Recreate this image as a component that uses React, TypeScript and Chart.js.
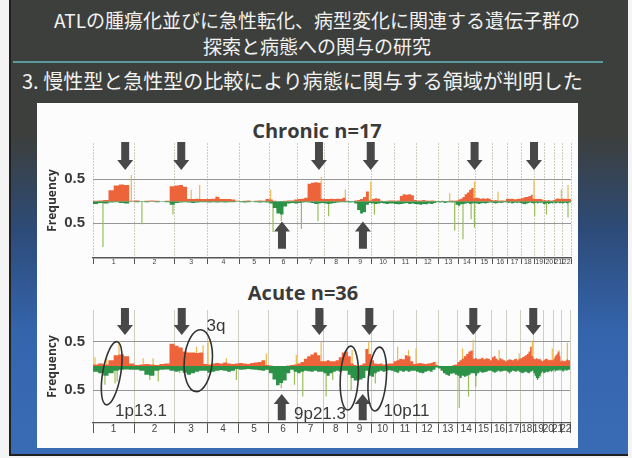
import React, { useEffect, useRef } from 'react';
import Chart from 'chart.js/auto';

// ---------- data ----------
const CHROMOSOMES = ['1','2','3','4','5','6','7','8','9','10','11','12','13','14','15','16','17','18','19','20','21','22'];
const CHROM_LENGTH_MB = [249.3,243.2,198.0,191.2,180.9,171.1,159.1,146.4,141.2,135.5,135.0,133.9,115.2,107.3,102.5,90.4,81.2,78.1,59.1,63.0,48.1,51.3];
const BINS_PER_CHROM = 8;
const Y_TICKS = [-0.5, 0.5];

// Chronic n=17 (8 bins per chromosome)
const CHRONIC_GAIN = [
  0.02,0.01,0.02,0.03,0.25,0.36,0.38,0.37,
  0.01,0.02,0.00,0.01,0.02,0.01,0.00,0.01,
  0.34,0.36,0.37,0.33,0.05,0.05,0.06,0.05,
  0.05,0.05,0.06,0.10,0.05,0.05,0.05,0.04,
  0.01,0.00,0.01,0.02,0.00,0.01,0.02,0.01,
  0.05,0.04,0.01,0.00,0.00,0.01,0.02,0.02,
  0.04,0.05,0.06,0.08,0.40,0.42,0.43,0.42,
  0.06,0.05,0.05,0.06,0.05,0.06,0.05,0.08,
  0.01,0.00,0.00,0.02,0.03,0.05,0.10,0.22,
  0.02,0.05,0.07,0.06,0.01,0.00,0.01,0.02,
  0.02,0.01,0.02,0.12,0.16,0.15,0.16,0.14,
  0.03,0.02,0.02,0.03,0.02,0.01,0.02,0.01,
  0.00,0.00,0.01,0.00,0.00,0.01,0.02,0.01,
  0.02,0.04,0.06,0.10,0.16,0.20,0.26,0.30,
  0.07,0.08,0.07,0.06,0.07,0.06,0.07,0.06,
  0.03,0.02,0.03,0.02,0.01,0.02,0.02,0.01,
  0.05,0.06,0.05,0.06,0.05,0.04,0.05,0.06,
  0.06,0.07,0.08,0.10,0.10,0.11,0.12,0.15,
  0.06,0.05,0.06,0.05,0.05,0.06,0.05,0.04,
  0.02,0.03,0.02,0.02,0.03,0.02,0.01,0.02,
  0.03,0.04,0.05,0.06,0.07,0.06,0.05,0.05,
  0.05,0.06,0.06,0.05,0.06,0.05,0.06,0.05,
];
const CHRONIC_LOSS = [
  -0.05,-0.06,-0.04,-0.05,-0.03,-0.02,-0.04,-0.05,
  -0.01,-0.02,-0.01,-0.02,-0.01,-0.02,-0.01,-0.02,
  -0.08,-0.04,-0.03,-0.02,-0.03,-0.04,-0.03,-0.02,
  -0.02,-0.03,-0.02,-0.03,-0.02,-0.03,-0.02,-0.02,
  -0.01,-0.02,-0.03,-0.02,-0.01,-0.02,-0.03,-0.02,
  -0.03,-0.05,-0.15,-0.28,-0.30,-0.12,-0.05,-0.04,
  -0.05,-0.04,-0.03,-0.02,-0.03,-0.04,-0.06,-0.05,
  -0.04,-0.05,-0.06,-0.05,-0.04,-0.03,-0.02,-0.02,
  -0.02,-0.03,-0.02,-0.05,-0.20,-0.28,-0.25,-0.08,
  -0.04,-0.05,-0.06,-0.05,-0.04,-0.05,-0.06,-0.05,
  -0.05,-0.06,-0.07,-0.06,-0.05,-0.04,-0.06,-0.05,
  -0.06,-0.07,-0.08,-0.06,-0.07,-0.05,-0.06,-0.04,
  -0.02,-0.03,-0.02,-0.04,-0.03,-0.02,-0.03,-0.02,
  -0.08,-0.10,-0.07,-0.06,-0.05,-0.04,-0.06,-0.05,
  -0.04,-0.05,-0.06,-0.05,-0.04,-0.05,-0.04,-0.03,
  -0.03,-0.04,-0.05,-0.04,-0.03,-0.04,-0.03,-0.02,
  -0.03,-0.04,-0.03,-0.05,-0.04,-0.03,-0.04,-0.03,
  -0.04,-0.05,-0.06,-0.07,-0.05,-0.04,-0.03,-0.04,
  -0.05,-0.04,-0.03,-0.05,-0.04,-0.03,-0.04,-0.03,
  -0.06,-0.07,-0.05,-0.04,-0.06,-0.05,-0.04,-0.05,
  -0.03,-0.04,-0.05,-0.04,-0.03,-0.04,-0.05,-0.04,
  -0.04,-0.05,-0.04,-0.03,-0.04,-0.05,-0.04,-0.03,
];
const CHRONIC_SPIKE_UP_MB = [231, 592, 643, 743, 1071, 1376, 1521, 1674, 2150, 2300, 2441, 2658, 2823, 2863];
const CHRONIC_SPIKE_UP_FREQ = [0.60, 0.26, 0.37, 0.12, 0.26, 0.56, 0.27, 0.45, 0.18, 0.45, 0.22, 0.50, 0.27, 0.37];
const CHRONIC_SPIKE_DOWN_MB = [60, 295, 482, 1085, 1135, 1256, 1356, 1420, 1696, 2180, 2230, 2279, 2299, 2662, 2733, 2863];
const CHRONIC_SPIKE_DOWN_FREQ = [-1.04, -0.52, -0.30, -0.70, -0.45, -0.63, -0.45, -0.34, -0.30, -0.67, -0.86, -0.41, -0.60, -0.34, -0.30, -0.37];
const CHRONIC_GAIN_ARROWS_MB = [194, 532, 1362, 1674, 2300, 2658];
const CHRONIC_LOSS_ARROWS_MB = [1139, 1627];

// Acute n=36
const ACUTE_GAIN = [
  0.04,0.03,0.05,0.03,0.12,0.22,0.24,0.20,
  0.05,0.02,0.03,0.04,0.03,0.02,0.04,0.05,
  0.46,0.42,0.38,0.30,0.28,0.28,0.27,0.28,
  0.04,0.03,0.05,0.06,0.05,0.07,0.05,0.04,
  0.05,0.06,0.05,0.04,0.06,0.07,0.08,0.12,
  0.02,0.01,0.00,0.00,0.00,0.00,0.01,0.02,
  0.03,0.05,0.08,0.15,0.20,0.24,0.28,0.22,
  0.10,0.10,0.12,0.10,0.10,0.12,0.18,0.28,
  0.30,0.20,0.05,0.02,0.00,0.02,0.05,0.35,
  0.25,0.12,0.05,0.04,0.05,0.03,0.04,0.05,
  0.05,0.10,0.12,0.15,0.14,0.22,0.20,0.10,
  0.04,0.05,0.06,0.05,0.04,0.05,0.06,0.08,
  0.02,0.00,0.00,0.00,0.00,0.00,0.00,0.02,
  0.03,0.08,0.12,0.15,0.20,0.25,0.30,0.32,
  0.15,0.16,0.14,0.15,0.17,0.14,0.16,0.15,
  0.12,0.18,0.20,0.15,0.12,0.16,0.14,0.12,
  0.10,0.12,0.14,0.13,0.12,0.14,0.15,0.12,
  0.15,0.16,0.18,0.20,0.22,0.25,0.30,0.40,
  0.20,0.15,0.14,0.16,0.15,0.14,0.15,0.12,
  0.10,0.12,0.14,0.15,0.14,0.12,0.13,0.12,
  0.12,0.15,0.20,0.22,0.25,0.30,0.28,0.20,
  0.10,0.12,0.10,0.11,0.10,0.12,0.14,0.12,
];
const ACUTE_LOSS = [
  -0.10,-0.12,-0.15,-0.20,-0.15,-0.10,-0.08,-0.07,
  -0.08,-0.08,-0.10,-0.18,-0.20,-0.10,-0.08,-0.07,
  -0.10,-0.12,-0.10,-0.14,-0.18,-0.15,-0.12,-0.10,
  -0.10,-0.14,-0.12,-0.10,-0.09,-0.10,-0.12,-0.10,
  -0.06,-0.08,-0.07,-0.06,-0.07,-0.08,-0.09,-0.10,
  -0.08,-0.15,-0.28,-0.40,-0.35,-0.30,-0.15,-0.08,
  -0.12,-0.15,-0.12,-0.10,-0.11,-0.12,-0.10,-0.12,
  -0.12,-0.15,-0.20,-0.15,-0.12,-0.10,-0.12,-0.10,
  -0.10,-0.18,-0.25,-0.30,-0.30,-0.28,-0.25,-0.10,
  -0.20,-0.22,-0.15,-0.12,-0.10,-0.12,-0.10,-0.09,
  -0.10,-0.12,-0.14,-0.10,-0.12,-0.10,-0.12,-0.10,
  -0.10,-0.12,-0.14,-0.15,-0.12,-0.10,-0.12,-0.08,
  -0.03,-0.05,-0.10,-0.15,-0.18,-0.20,-0.16,-0.15,
  -0.18,-0.20,-0.25,-0.20,-0.22,-0.20,-0.18,-0.15,
  -0.15,-0.20,-0.15,-0.12,-0.14,-0.13,-0.12,-0.10,
  -0.10,-0.12,-0.14,-0.12,-0.10,-0.12,-0.11,-0.10,
  -0.10,-0.12,-0.15,-0.12,-0.10,-0.11,-0.12,-0.10,
  -0.12,-0.14,-0.15,-0.13,-0.12,-0.14,-0.15,-0.12,
  -0.10,-0.15,-0.20,-0.25,-0.28,-0.25,-0.20,-0.15,
  -0.12,-0.15,-0.14,-0.12,-0.13,-0.12,-0.10,-0.12,
  -0.10,-0.08,-0.12,-0.10,-0.09,-0.10,-0.08,-0.10,
  -0.08,-0.10,-0.12,-0.10,-0.08,-0.10,-0.09,-0.08,
];
const ACUTE_SPIKE_UP_MB = [12, 83, 157, 303, 363, 625, 665, 695, 806, 1047, 1228, 1378, 1565, 1665, 1840, 1906, 1951, 2071, 2232, 2296, 2453, 2574, 2654, 2774, 2815, 2865];
const ACUTE_SPIKE_UP_FREQ = [0.18, 0.16, 0.52, 0.16, 0.16, 0.40, 0.43, 0.52, 0.16, 0.26, 0.23, 0.50, 0.33, 0.50, 0.40, 0.33, 0.36, 0.09, 0.36, 0.54, 0.33, 0.26, 0.52, 0.36, 0.33, 0.48];
const ACUTE_SPIKE_DOWN_MB = [72, 133, 146, 343, 394, 524, 866, 1137, 1217, 1267, 1408, 1448, 1559, 1705, 2212, 2268, 2312, 2684, 2704];
const ACUTE_SPIKE_DOWN_FREQ = [-0.39, -0.36, -0.32, -0.29, -0.32, -0.15, -0.29, -0.46, -0.39, -0.63, -0.63, -0.29, -0.50, -0.36, -0.87, -0.63, -0.43, -0.29, -0.22];
const ACUTE_GAIN_ARROWS_MB = [193, 536, 1367, 1669, 2297, 2659];
const ACUTE_LOSS_ARROWS_MB = [1140, 1629];
const ACUTE_REGION_LABELS = ['1p13.1', '3q', '9p21.3', '10p11'];
const ACUTE_REGION_MB = [113, 636, 1548, 1717];
const ACUTE_REGION_FREQ = [-0.15, 0.11, -0.25, -0.27];
const ACUTE_LABEL_MB = [290, 743, 1371, 1893];
const ACUTE_LABEL_FREQ = [-0.93, 0.83, -0.99, -0.93];

// ---------- helpers ----------
const CHROM_START: number[] = [];
CHROM_LENGTH_MB.reduce((acc, len) => { CHROM_START.push(acc); return acc + len; }, 0);
const GENOME_MB = CHROM_LENGTH_MB.reduce((a, b) => a + b, 0);
const X_TICKS: number[] = [];
CHROM_LENGTH_MB.forEach((len, c) => { X_TICKS.push(CHROM_START[c]); X_TICKS.push(CHROM_START[c] + len / 2); });
X_TICKS.push(GENOME_MB);

function stepPoints(values: number[]) {
  const pts: any[] = [];
  CHROM_LENGTH_MB.forEach((len, c) => {
    for (let b = 0; b < BINS_PER_CHROM; b++) {
      pts.push({ x: CHROM_START[c] + (len * b) / BINS_PER_CHROM, y: values[c * BINS_PER_CHROM + b] });
    }
  });
  pts.push({ x: GENOME_MB, y: values[values.length - 1] });
  return pts;
}
function spikePoints(mb: number[], freq: number[]) {
  const pts: any[] = [];
  mb.forEach((m, i) => { pts.push({ x: m, y: 0 }, { x: m, y: freq[i] }, { x: m, y: null }); });
  return pts;
}

const ORANGE = 'rgb(238,100,58)';
const GREEN = 'rgb(44,146,72)';
const SPIKE_UP = 'rgba(236,182,72,0.95)';
const SPIKE_DOWN = 'rgba(146,186,84,0.95)';
const ARROW = '#484848';

function drawArrow(ctx: CanvasRenderingContext2D, x: number, yTail: number, yTip: number) {
  const dir = yTip > yTail ? 1 : -1;
  const headLen = 10, shaftW = 8, headW = 16;
  const yb = yTip - dir * headLen;
  ctx.beginPath();
  ctx.moveTo(x - shaftW / 2, yTail);
  ctx.lineTo(x + shaftW / 2, yTail);
  ctx.lineTo(x + shaftW / 2, yb);
  ctx.lineTo(x + headW / 2, yb);
  ctx.lineTo(x, yTip);
  ctx.lineTo(x - headW / 2, yb);
  ctx.lineTo(x - shaftW / 2, yb);
  ctx.closePath();
  ctx.fill();
}

const marksPlugin = {
  id: 'marks',
  afterDatasetsDraw(chart: any, _args: any, opts: any) {
    const { ctx } = chart;
    const xs = chart.scales.x, ys = chart.scales.y;
    ctx.save();
    ctx.fillStyle = ARROW;
    (opts.gainArrows || []).forEach((mb: number) =>
      drawArrow(ctx, xs.getPixelForValue(mb), ys.getPixelForValue(opts.gainArrowY[0]), ys.getPixelForValue(opts.gainArrowY[1])));
    (opts.lossArrows || []).forEach((mb: number) =>
      drawArrow(ctx, xs.getPixelForValue(mb), ys.getPixelForValue(opts.lossArrowY[0]), ys.getPixelForValue(opts.lossArrowY[1])));
    const labels: string[] = opts.regionLabels || [];
    labels.forEach((lab, i) => {
      ctx.strokeStyle = '#333';
      ctx.lineWidth = 1.6;
      ctx.beginPath();
      ctx.ellipse(xs.getPixelForValue(opts.regionMb[i]), ys.getPixelForValue(opts.regionFreq[i]),
        opts.ellipseRx[i], opts.ellipseRy[i], opts.ellipseRot[i], 0, Math.PI * 2);
      ctx.stroke();
      ctx.fillStyle = '#3a3a3a';
      ctx.font = '17px "Liberation Sans", Arial, sans-serif';
      ctx.textAlign = 'center';
      ctx.textBaseline = 'middle';
      ctx.fillText(lab, xs.getPixelForValue(opts.labelMb[i]), ys.getPixelForValue(opts.labelFreq[i]));
    });
    ctx.restore();
  },
};

function makeConfig(p: any) {
  return {
    type: 'line',
    data: {
      datasets: [
        { data: stepPoints(p.gain), backgroundColor: ORANGE, borderWidth: 0, fill: 'origin', stepped: 'after', pointRadius: 0 },
        { data: stepPoints(p.loss), backgroundColor: GREEN, borderWidth: 0, fill: 'origin', stepped: 'after', pointRadius: 0 },
        { data: spikePoints(p.upMb, p.upFreq), borderColor: SPIKE_UP, borderWidth: 1.2, fill: false, pointRadius: 0, spanGaps: false },
        { data: spikePoints(p.downMb, p.downFreq), borderColor: SPIKE_DOWN, borderWidth: 1.2, fill: false, pointRadius: 0, spanGaps: false },
      ],
    },
    options: {
      animation: false,
      responsive: false,
      events: [],
      layout: { padding: { left: 7, right: p.padRight, top: 7, bottom: 4 } },
      plugins: { legend: { display: false }, tooltip: { enabled: false }, title: { display: false }, marks: p.marks },
      scales: {
        x: {
          type: 'linear', min: 0, max: GENOME_MB,
          afterBuildTicks: (s: any) => { s.ticks = X_TICKS.map((v) => ({ value: v })); },
          afterFit: (s: any) => { s.height = p.xAxisHeight; s.paddingLeft = 0; s.paddingRight = 0; },
          grid: {
            color: (ctx: any) => (ctx.index % 2 === 0 ? 'rgb(208,206,192)' : 'rgba(0,0,0,0)'),
            tickColor: (ctx: any) => (ctx.index % 2 === 0 ? '#555' : 'rgba(0,0,0,0)'),
            tickLength: p.tickLength,
            lineWidth: 1,
          },
          border: { color: '#555', width: p.borderWidth, dash: p.borderDash },
          ticks: {
            autoSkip: false, maxRotation: 0, minRotation: 0, padding: p.labelPad,
            font: { size: p.labelSize, family: '"Liberation Sans Narrow", "Liberation Sans", Arial, sans-serif' },
            color: '#444',
            callback: (_v: any, i: number) => (i % 2 === 1 ? CHROMOSOMES[(i - 1) / 2] : ''),
          },
        },
        y: {
          min: p.yMin, max: p.yMax,
          afterBuildTicks: (s: any) => { s.ticks = Y_TICKS.map((v) => ({ value: v })); },
          afterFit: (s: any) => { s.width = 50; s.paddingTop = 0; s.paddingBottom = 0; },
          grid: { color: 'rgb(150,150,150)', drawTicks: false, lineWidth: 1 },
          border: { display: false },
          ticks: {
            padding: 8,
            font: { size: 15, weight: 'bold', family: '"Liberation Sans", Arial, sans-serif' },
            color: '#3a3a3a',
            callback: (v: any) => Math.abs(Number(v)).toFixed(1),
          },
          title: {
            display: true, text: 'Frequency', color: '#333',
            font: { size: 12, weight: 'bold', family: '"Open Sans", sans-serif' },
            padding: { top: 2, bottom: 0 },
          },
        },
      },
    },
    plugins: [marksPlugin],
  };
}

function FreqChart({ params, left, top }: any) {
  const ref = useRef<HTMLCanvasElement>(null);
  useEffect(() => {
    const chart = new Chart(ref.current as HTMLCanvasElement, makeConfig(params) as any);
    return () => chart.destroy();
  }, []);
  return (
    <canvas ref={ref} width={545} height={140}
      style={{ position: 'absolute', left, top, width: 545, height: 140 }} />
  );
}

const CHRONIC_PARAMS = {
  gain: CHRONIC_GAIN, loss: CHRONIC_LOSS,
  upMb: CHRONIC_SPIKE_UP_MB, upFreq: CHRONIC_SPIKE_UP_FREQ,
  downMb: CHRONIC_SPIKE_DOWN_MB, downFreq: CHRONIC_SPIKE_DOWN_FREQ,
  yMin: -1.289, yMax: 1.325, padRight: 10, xAxisHeight: 14,
  tickLength: 6, labelPad: -6, labelSize: 7, borderWidth: 1.5, borderDash: [2, 1],
  marks: {
    gainArrows: CHRONIC_GAIN_ARROWS_MB, gainArrowY: [1.35, 0.71],
    lossArrows: CHRONIC_LOSS_ARROWS_MB, lossArrowY: [-1.08, -0.46],
    regionLabels: [],
  },
};

const ACUTE_PARAMS = {
  gain: ACUTE_GAIN, loss: ACUTE_LOSS,
  upMb: ACUTE_SPIKE_UP_MB, upFreq: ACUTE_SPIKE_UP_FREQ,
  downMb: ACUTE_SPIKE_DOWN_MB, downFreq: ACUTE_SPIKE_DOWN_FREQ,
  yMin: -1.178, yMax: 1.157, padRight: 11, xAxisHeight: 16,
  tickLength: 10, labelPad: -10, labelSize: 10, borderWidth: 1.2, borderDash: [],
  marks: {
    gainArrows: ACUTE_GAIN_ARROWS_MB, gainArrowY: [1.2, 0.64],
    lossArrows: ACUTE_LOSS_ARROWS_MB, lossArrowY: [-1.12, -0.58],
    regionLabels: ACUTE_REGION_LABELS, regionMb: ACUTE_REGION_MB, regionFreq: ACUTE_REGION_FREQ,
    labelMb: ACUTE_LABEL_MB, labelFreq: ACUTE_LABEL_FREQ,
    ellipseRx: [9, 14, 9, 9], ellipseRy: [32, 31, 32, 32], ellipseRot: [0.17, 0.08, 0.05, 0.08],
  },
};

const CJK = '"Noto Sans CJK JP", "Noto Sans", sans-serif';

export default function App() {
  return (
    <div style={{ position: 'absolute', left: 0, top: 0, width: 632, height: 458, background: '#f4f4f4', overflow: 'hidden' }}>
      <div style={{
        position: 'absolute', left: 9, top: 0, width: 619, height: 456,
        background: 'linear-gradient(180deg, #3c3f3c 0px, #3c3f3c 135px, #2d4b78 230px, #3464ac 330px, #3a6cb6 456px)',
        borderLeft: '2px solid #202020', borderBottom: '2px solid #202020', boxSizing: 'border-box',
      }} />
      <div style={{ position: 'absolute', left: 0, width: 632, top: 8, lineHeight: '24px', textAlign: 'center', color: '#f2f2f2', fontFamily: CJK, fontSize: 19, paddingLeft: 2, boxSizing: 'border-box' }}>
        ATLの腫瘍化並びに急性転化、病型変化に関連する遺伝子群の
      </div>
      <div style={{ position: 'absolute', left: 0, width: 632, top: 34, lineHeight: '24px', textAlign: 'center', color: '#f2f2f2', fontFamily: CJK, fontSize: 19, paddingLeft: 2, boxSizing: 'border-box' }}>
        探索と病態への関与の研究
      </div>
      <div style={{ position: 'absolute', left: 13, top: 61, width: 590, height: 2, background: '#5b9a9c' }} />
      <div style={{ position: 'absolute', left: 22, top: 69, lineHeight: '24px', color: '#f2f2f2', fontFamily: CJK, fontSize: 20, whiteSpace: 'nowrap' }}>
        3. 慢性型と急性型の比較により病態に関与する領域が判明した
      </div>
      <div style={{ position: 'absolute', left: 37, top: 103, width: 541, height: 345, background: '#fcfcfc' }} />
      <div style={{ position: 'absolute', left: 217, width: 200, top: 118, lineHeight: '26px', textAlign: 'center', fontFamily: '"Open Sans", sans-serif', fontWeight: 700, fontSize: 20, color: '#3a3a3a' }}>
        Chronic n=17
      </div>
      <div style={{ position: 'absolute', left: 203, width: 200, top: 280, lineHeight: '26px', textAlign: 'center', fontFamily: '"Open Sans", sans-serif', fontWeight: 700, fontSize: 20, color: '#3a3a3a' }}>
        Acute n=36
      </div>
      <FreqChart params={CHRONIC_PARAMS} left={36} top={136} />
      <FreqChart params={ACUTE_PARAMS} left={36} top={303} />
    </div>
  );
}
